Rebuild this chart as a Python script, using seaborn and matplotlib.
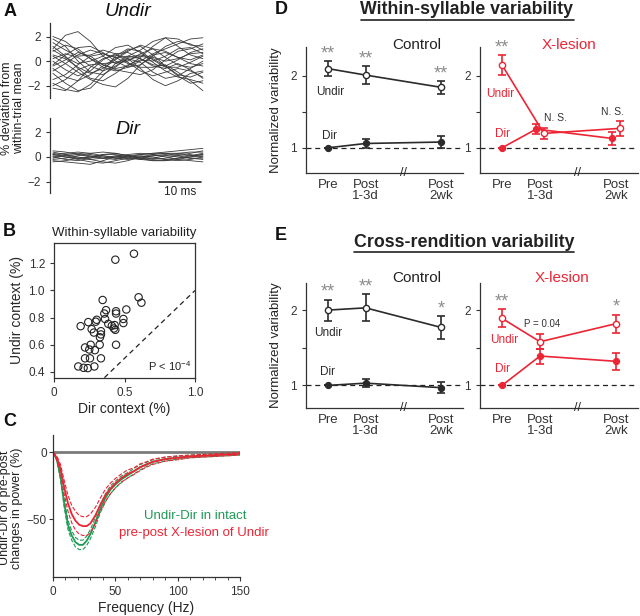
import numpy as np
import pandas as pd
import matplotlib
matplotlib.use("Agg")
import matplotlib.pyplot as plt
from matplotlib.lines import Line2D
import seaborn as sns

# ---------------- data ----------------
trace_t = [0, 3, 6, 9, 12, 15, 18, 21, 24, 27, 30, 33, 36]
undir_traces = [
    [2.0, 1.6, 0.8, 0.2, -0.3, -0.6, -0.4, 0.3, 1.2, 1.9, 1.8, 1.3, 1.2],
    [1.0, 2.1, 2.4, 1.6, 0.4, -0.2, 0.0, 0.6, 1.0, 0.8, 0.3, 0.1, 0.5],
    [-2.2, -2.4, -1.6, -0.5, 0.2, 0.5, 0.2, -0.6, -1.5, -2.0, -1.6, -1.0, -0.8],
    [-1.0, -1.8, -2.4, -2.2, -1.2, -0.2, 0.4, 0.2, -0.4, -0.6, -0.2, -0.7, -1.4],
    [0.5, 0.2, -0.5, -1.0, -0.6, 0.1, 0.8, 1.3, 1.0, 0.3, -0.3, -0.5, -0.2],
    [1.5, 0.9, 0.4, 0.5, 0.9, 0.6, -0.1, -0.8, -1.2, -0.9, -0.6, -0.8, -1.3],
    [-0.3, 0.5, 1.1, 1.2, 0.7, 0.0, -0.5, -0.3, 0.4, 1.2, 1.6, 1.4, 0.9],
    [0.0, -0.7, -1.2, -0.8, 0.1, 0.6, 0.7, 0.2, -0.3, -0.4, 0.1, 0.7, 1.0],
    [-1.5, -1.1, -0.3, 0.4, 0.6, 0.3, -0.2, -0.5, -0.5, -0.3, -0.9, -1.6, -2.4],
    [0.8, 1.3, 1.0, 0.2, -0.5, -0.8, -0.5, 0.0, 0.6, 1.0, 1.4, 1.8, 1.9],
    [-0.6, -1.3, -1.6, -1.1, -0.4, 0.2, 0.9, 1.2, 0.5, -0.4, -1.1, -1.3, -0.9],
    [1.8, 1.2, 0.0, -0.9, -1.1, -0.5, 0.3, 0.5, 0.3, 0.0, 0.2, 0.6, 0.7],
    [-2.0, -1.5, -0.7, -0.3, -0.2, -0.1, 0.1, 0.4, 0.2, -0.4, -1.2, -1.8, -1.6],
    [0.2, 0.6, 0.3, -0.4, -0.8, -0.4, 0.2, -0.1, -0.9, -1.4, -1.2, -0.6, 0.0],
    [1.2, 0.4, -0.6, -1.4, -1.6, -1.0, -0.3, 0.1, 0.0, 0.4, 1.0, 1.1, 0.6],
    [-0.8, -0.2, 0.5, 0.9, 0.6, 0.3, 0.4, 0.9, 1.6, 1.9, 1.2, 0.5, 0.2],
    [0.4, -0.2, -0.9, -1.5, -1.9, -2.1, -1.4, -0.3, 0.5, 0.7, 0.3, -0.2, -0.4],
    [-1.8, -2.3, -2.5, -1.9, -0.8, 0.4, 1.0, 0.8, 0.1, -0.5, -0.5, -0.1, 0.4],
    [0.9, 0.3, -0.2, 0.0, 0.4, 1.1, 1.3, 0.7, -0.1, -0.8, -1.3, -1.5, -1.8],
    [-0.4, 0.1, 0.7, 0.4, -0.3, -0.7, -0.9, -1.1, -0.7, 0.1, 0.8, 1.0, 1.4],
]
dir_traces = [
    [0.5, 0.4, 0.2, 0.0, -0.1, 0.0, 0.1, 0.2, 0.3, 0.4, 0.5, 0.6, 0.7],
    [-0.3, -0.4, -0.5, -0.6, -0.3, 0.0, 0.1, 0.0, -0.1, -0.2, -0.1, 0.0, 0.1],
    [0.2, 0.3, 0.4, 0.3, 0.1, -0.1, -0.2, -0.1, 0.1, 0.2, 0.1, -0.1, -0.2],
    [0.0, -0.2, -0.3, -0.1, 0.2, 0.3, 0.1, -0.1, -0.3, -0.3, -0.2, 0.0, 0.2],
    [0.4, 0.2, 0.0, -0.2, -0.4, -0.5, -0.3, 0.0, 0.2, 0.3, 0.3, 0.4, 0.4],
    [-0.1, 0.1, 0.2, 0.1, -0.1, -0.2, 0.0, 0.1, 0.0, -0.2, -0.3, -0.2, 0.0],
    [0.3, 0.1, -0.1, -0.2, -0.1, 0.1, 0.2, 0.3, 0.2, 0.0, -0.2, -0.3, -0.4],
    [-0.2, -0.1, 0.1, 0.3, 0.4, 0.3, 0.1, -0.1, -0.2, -0.1, 0.1, 0.3, 0.5],
    [0.1, 0.0, -0.2, -0.4, -0.5, -0.3, -0.1, 0.0, 0.1, 0.1, 0.0, -0.1, -0.1],
    [0.0, 0.2, 0.3, 0.2, 0.0, -0.1, 0.0, 0.2, 0.3, 0.3, 0.2, 0.1, 0.3],
    [-0.4, -0.3, -0.1, 0.0, 0.1, 0.0, -0.1, -0.2, -0.3, -0.3, -0.1, 0.1, 0.2],
    [0.2, 0.0, -0.1, 0.0, 0.2, 0.2, 0.0, -0.2, -0.1, 0.1, 0.3, 0.2, 0.0],
]

b_dir = [0.435, 0.567, 0.60, 0.62, 0.345, 0.513, 0.44, 0.44, 0.369, 0.357, 0.303, 0.296,
         0.243, 0.189, 0.362, 0.492, 0.492, 0.385, 0.41, 0.43, 0.435, 0.425, 0.267, 0.283,
         0.333, 0.333, 0.326, 0.44, 0.324, 0.26, 0.22, 0.25, 0.29, 0.255, 0.22, 0.333,
         0.172, 0.21, 0.24, 0.286]
b_undir = [1.227, 1.271, 0.95, 0.91, 0.93, 0.86, 0.847, 0.83, 0.855, 0.83, 0.784, 0.77,
           0.767, 0.737, 0.79, 0.79, 0.76, 0.754, 0.74, 0.745, 0.71, 0.72, 0.715, 0.69,
           0.70, 0.676, 0.655, 0.60, 0.60, 0.60, 0.58, 0.565, 0.56, 0.50, 0.50, 0.50,
           0.44, 0.43, 0.428, 0.44]

freq = [0, 3, 6, 9, 12, 15, 18, 21, 24, 27, 30, 34, 38, 42, 46, 50, 55, 60, 65, 70, 75,
        80, 90, 100, 110, 120, 130, 140, 150]
intact_mean = [0, -5, -18, -38, -54, -62, -67, -69, -69, -66, -61, -52, -42, -34, -28, -24,
               -20, -17, -14, -11, -9, -7, -5, -4, -3, -2.5, -2, -1.5, -1]
intact_sem = [0, 1, 2, 3, 3.5, 3.5, 3.5, 3.5, 3.5, 3.5, 3.5, 3.5, 3, 3, 3, 2.5, 2.5, 2, 2, 2,
              1.5, 1.5, 1.5, 1, 1, 1, 1, 1, 1]
lesion_mean = [0, -4, -12, -26, -38, -46, -51, -54, -55, -55, -53, -47, -39, -32, -27, -23,
               -19, -16, -14, -11, -9, -7, -5, -4, -3, -2.5, -2, -1.5, -1]
lesion_sem = [0, 1.5, 3, 5, 6, 6.5, 7, 7, 7, 7, 7, 6, 5, 4.5, 4, 3.5, 3, 3, 2.5, 2.5, 2, 2,
              1.5, 1.5, 1, 1, 1, 1, 1]

sessions = ["Pre", "Post\n1-3d", "Post\n2wk"]
# D: within-syllable
d_ctrl_undir, d_ctrl_undir_err = [2.10, 2.01, 1.84], [0.10, 0.13, 0.09]
d_ctrl_dir, d_ctrl_dir_err = [1.00, 1.06, 1.08], [0.0, 0.06, 0.08]
d_les_undir, d_les_undir_err = [2.15, 1.20, 1.27], [0.14, 0.08, 0.10]
d_les_dir, d_les_dir_err = [1.00, 1.26, 1.13], [0.0, 0.07, 0.09]
d_ctrl_marks = ["**", "**", "**"]
d_les_marks = ["**", "N. S.", "N. S."]
# E: cross-rendition
e_ctrl_undir, e_ctrl_undir_err = [2.00, 2.03, 1.77], [0.14, 0.18, 0.15]
e_ctrl_dir, e_ctrl_dir_err = [1.00, 1.03, 0.97], [0.0, 0.05, 0.07]
e_les_undir, e_les_undir_err = [1.89, 1.58, 1.82], [0.12, 0.10, 0.12]
e_les_dir, e_les_dir_err = [1.00, 1.39, 1.32], [0.0, 0.10, 0.11]
e_ctrl_marks = ["**", "**", "*"]
e_les_marks = ["**", "", "*"]

# ---------------- style ----------------
sns.set_style("ticks")
plt.rcParams["font.family"] = ["Liberation Sans", "DejaVu Sans"]
plt.rcParams["axes.edgecolor"] = "#333333"
plt.rcParams["axes.linewidth"] = 0.9
plt.rcParams["xtick.color"] = "#333333"
plt.rcParams["ytick.color"] = "#333333"
plt.rcParams["xtick.labelsize"] = 8.5
plt.rcParams["ytick.labelsize"] = 8.5
plt.rcParams["xtick.major.size"] = 3
plt.rcParams["ytick.major.size"] = 3

W, H = 640, 616
GREEN = "#1f9a55"
RED = "#ec2535"
INK = "#2b2b2b"
STAR = "#8c8c8c"

fig = plt.figure(figsize=(W / 100, H / 100), dpi=100)


def px_rect(l, t, r, b):
    return [l / W, 1 - b / H, (r - l) / W, (b - t) / H]


def ftext(x, y, s, **kw):
    return fig.text(x / W, 1 - y / H, s, **kw)


# panel letters
for lab, (x, y) in {"A": (4, 12), "B": (3, 231), "C": (3, 421), "D": (275, 9), "E": (275, 235)}.items():
    ftext(x, y, lab, fontsize=13, fontweight="bold", va="center", ha="left", color="#111")

# ---------------- A ----------------
def trace_frame(traces):
    rows = [(i, t, v) for i, tr in enumerate(traces) for t, v in zip(trace_t, tr)]
    return pd.DataFrame(rows, columns=["trace", "t", "v"])


for rect, traces, ylim, name, ny in [((50, 23, 205, 98), undir_traces, (-3.0, 3.1), "Undir", 12),
                                     ((50, 118, 205, 193), dir_traces, (-2.93, 3.17), "Dir", 129)]:
    ax = fig.add_axes(px_rect(*rect))
    sns.lineplot(data=trace_frame(traces), x="t", y="v", units="trace", estimator=None,
                 color="#3a3a3a", lw=0.6, ax=ax)
    ax.set_xlim(-0.7, 36.5)
    ax.set_ylim(*ylim)
    ax.set_yticks([-2, 0, 2])
    ax.set_xticks([])
    ax.set_xlabel("")
    ax.set_ylabel("")
    sns.despine(ax=ax, bottom=True)
    ax.patch.set_alpha(0)
    ftext(128, ny, name, fontsize=14, style="italic", ha="center", va="center", color="#111")
    axA_dir = ax

axA_dir.plot([25.5, 35.5], [-2, -2], color="#222", lw=1.2, clip_on=False)
axA_dir.text(30.5, -2.35, "10 ms", ha="center", va="top", fontsize=8.5, color="#222")
ftext(13, 108, "% deviation from\nwithin-trial mean", rotation=90, ha="center", va="center",
      fontsize=9, linespacing=1.0, color="#222")

# ---------------- B ----------------
axB = fig.add_axes(px_rect(54, 243, 195, 378))
sns.scatterplot(x=b_dir, y=b_undir, ax=axB, s=28, marker="o", linewidth=0.8)
for coll in axB.collections:
    coll.set_facecolor("none")
    coll.set_edgecolor("#222")
axB.plot([0, 1], [0, 1], ls=(0, (4, 3)), color="#222", lw=0.9)
axB.set_xlim(0, 1.0)
axB.set_ylim(0.355, 1.35)
axB.set_xticks([0, 0.5, 1.0], ["0", "0.5", "1.0"])
axB.set_yticks([0.4, 0.6, 0.8, 1.0, 1.2], ["0.4", "0.6", "0.8", "1.0", "1.2"])
axB.set_xlabel("Dir context (%)", fontsize=10, labelpad=2)
axB.set_ylabel("Undir context (%)", fontsize=10, labelpad=3)
axB.set_title("Within-syllable variability", fontsize=9.5, pad=5, color="#222")
axB.text(0.97, 0.04, r"P < 10$^{\mathregular{-4}}$", transform=axB.transAxes, ha="right",
         va="bottom", fontsize=8, color="#222")

# ---------------- C ----------------
axC = fig.add_axes(px_rect(53, 435, 240, 577))
axC.plot([0, 150], [0, 0], color="#7a7a7a", lw=2.0)
for mean, sem, col in [(intact_mean, intact_sem, GREEN), (lesion_mean, lesion_sem, RED)]:
    m = np.array(mean)
    s = np.array(sem)
    sns.lineplot(x=freq, y=m, color=col, lw=1.3, ax=axC)
    sns.lineplot(x=freq, y=m + s, color=col, lw=0.8, ls="--", ax=axC)
    sns.lineplot(x=freq, y=m - s, color=col, lw=0.8, ls="--", ax=axC)
axC.set_xlim(0, 150)
axC.set_ylim(-93, 13)
axC.set_xticks([0, 50, 100, 150])
axC.set_xticks(np.arange(0, 151, 10), minor=True)
axC.tick_params(axis="x", which="minor", length=2)
axC.tick_params(axis="y", pad=1.5)
axC.set_yticks([0, -50])
axC.set_xlabel("Frequency (Hz)", fontsize=10, labelpad=2)
axC.set_ylabel("")
ftext(11, 508, "Undir-Dir or pre-post\nchanges in power (%)", rotation=90, ha="center",
      va="center", fontsize=9, linespacing=1.0, color="#222")
sns.despine(ax=axC)
ftext(195, 516, "Undir-Dir in intact", color=GREEN, fontsize=9.5, ha="center", va="center")
ftext(194, 533, "pre-post X-lesion of Undir", color=RED, fontsize=9.5, ha="center", va="center")

# ---------------- D / E ----------------
xpos = [0, 1, 3]
ns_shift = [0, 0.3, -0.2]


def var_panel(rect, ylim, undir, undir_err, dr, dr_err, marks, col, dodge, ylabel,
              undir_lab, dir_lab):
    ax = fig.add_axes(px_rect(*rect))
    xu = [x + d for x, d in zip(xpos, dodge)]
    xd = [x - d for x, d in zip(xpos, dodge)]
    ax.axhline(1, ls=(0, (4, 3)), color="#222", lw=0.9, zorder=1)
    sns.lineplot(x=xu, y=undir, color=col, lw=1.2, marker="o", markersize=4.5,
                 markerfacecolor="white", markeredgecolor=col, markeredgewidth=1.0,
                 ax=ax, zorder=3)
    sns.lineplot(x=xd, y=dr, color=col, lw=1.2, marker="o", markersize=4.5,
                 markeredgecolor=col, ax=ax, zorder=3)
    ax.errorbar(xu, undir, yerr=undir_err, fmt="none", ecolor=col, elinewidth=1.2,
                capsize=3, capthick=1.2, zorder=2)
    ax.errorbar(xd, dr, yerr=dr_err, fmt="none", ecolor=col, elinewidth=1.2,
                capsize=3, capthick=1.2, zorder=2)
    for x, sh, y, e, mk in zip(xu, ns_shift, undir, undir_err, marks):
        if mk.startswith("*"):
            ax.text(x, y + e + 0.1, mk, ha="center", va="center", fontsize=13,
                    color=STAR, clip_on=False)
        elif mk:
            ax.text(x + sh, y + e + 0.13, mk, ha="center", va="center", fontsize=7.5,
                    color="#333", clip_on=False)
    ax.set_xlim(-0.58, 3.58)
    ax.set_ylim(*ylim)
    ax.set_xticks(xpos, sessions)
    ax.set_yticks([1, 1.5, 2], ["1", "", "2"])
    ax.tick_params(axis="x", length=0, pad=4)
    for lab in ax.get_xticklabels():
        lab.set_linespacing(0.95)
        lab.set_fontsize(9.5)
    ax.set_xlabel("")
    ax.set_ylabel(ylabel, fontsize=9.5, labelpad=6, color="#222")
    ax.text(2.0, ylim[0], "//", ha="center", va="center", fontsize=9, color="#222",
            clip_on=False)
    ax.text(*undir_lab, "Undir", ha="center", va="center", fontsize=8.5, color=col)
    ax.text(*dir_lab, "Dir", ha="center", va="center", fontsize=8.5, color=col)
    sns.despine(ax=ax)
    ax.patch.set_alpha(0)
    return ax


var_panel((306, 47, 463, 173), (0.65, 2.4), d_ctrl_undir, d_ctrl_undir_err, d_ctrl_dir,
          d_ctrl_dir_err, d_ctrl_marks, INK, [0, 0, 0], "Normalized variability",
          (0.05, 1.78), (0.03, 1.16))
var_panel((480, 47, 638, 173), (0.65, 2.4), d_les_undir, d_les_undir_err, d_les_dir,
          d_les_dir_err, d_les_marks, RED, [0, 0.1, 0.1], "",
          (-0.05, 1.75), (0.0, 1.19))
var_panel((306, 283, 463, 408), (0.70, 2.36), e_ctrl_undir, e_ctrl_undir_err, e_ctrl_dir,
          e_ctrl_dir_err, e_ctrl_marks, INK, [0, 0, 0], "Normalized variability",
          (0.02, 1.69), (0.0, 1.18))
axE2 = var_panel((480, 283, 638, 408), (0.70, 2.36), e_les_undir, e_les_undir_err, e_les_dir,
                 e_les_dir_err, e_les_marks, RED, [0, 0, 0], "",
                 (0.05, 1.60), (0.02, 1.22))
axE2.text(1.05, 1.81, "P = 0.04", ha="center", va="center", fontsize=7, color="#333")

ftext(417, 45, "Control", fontsize=11, ha="center", va="center", color="#222")
ftext(569, 45, "X-lesion", fontsize=11, ha="center", va="center", color=RED)
ftext(417, 278, "Control", fontsize=11, ha="center", va="center", color="#222")
ftext(562, 278, "X-lesion", fontsize=11, ha="center", va="center", color=RED)

titles = [ftext(467, 10, "Within-syllable variability", fontsize=12.8, fontweight="bold",
                ha="center", va="center", color="#222"),
          ftext(464, 243, "Cross-rendition variability", fontsize=12.8, fontweight="bold",
                ha="center", va="center", color="#222")]
fig.canvas.draw()
rend = fig.canvas.get_renderer()
for t in titles:
    bb = t.get_window_extent(rend)
    fig.add_artist(Line2D([bb.x0 / W, bb.x1 / W], [(bb.y0 - 1) / H] * 2,
                          transform=fig.transFigure, color="#222", lw=1.2))

fig.savefig("out.png", dpi=100)
